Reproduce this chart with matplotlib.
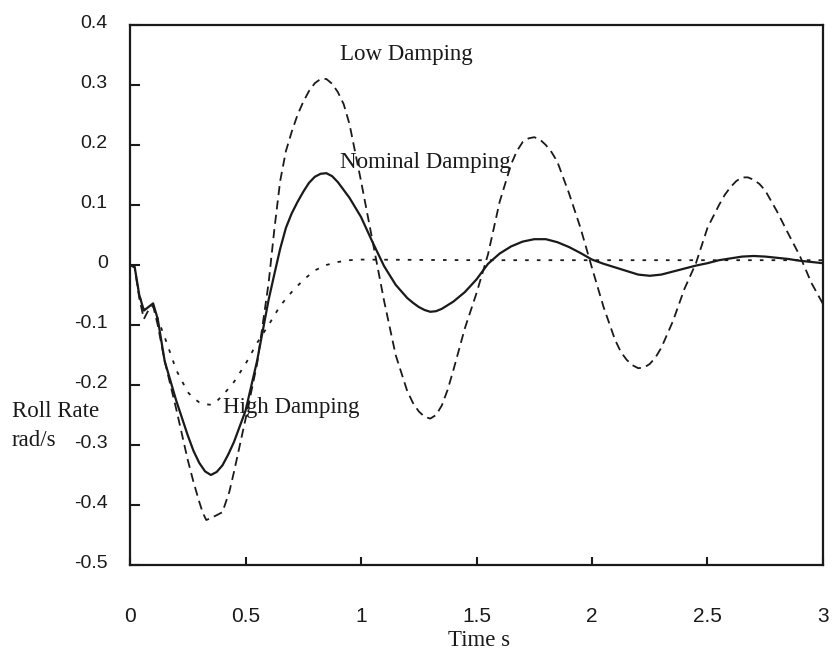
import matplotlib
matplotlib.use("Agg")
import matplotlib.pyplot as plt
import matplotlib.transforms as mtransforms

# values: time (s) and roll rate (rad/s) for each curve
t_nominal = [0.0, 0.02, 0.04, 0.06, 0.08, 0.10, 0.12, 0.15, 0.20, 0.25, 0.275,
             0.30, 0.325, 0.35, 0.375, 0.40, 0.425, 0.45, 0.50, 0.55, 0.60,
             0.625, 0.65, 0.675, 0.70, 0.725, 0.75, 0.775, 0.80, 0.825, 0.85,
             0.875, 0.90, 0.95, 1.00, 1.05, 1.10, 1.15, 1.20, 1.225, 1.25,
             1.275, 1.30, 1.325, 1.35, 1.40, 1.45, 1.50, 1.55, 1.60, 1.65,
             1.70, 1.75, 1.80, 1.85, 1.90, 1.95, 2.00, 2.05, 2.10, 2.15, 2.20,
             2.25, 2.30, 2.35, 2.40, 2.45, 2.50, 2.55, 2.60, 2.65, 2.70, 2.75,
             2.80, 2.85, 2.90, 2.95, 3.00]
nominal = [0.0, -0.003, -0.05, -0.076, -0.07, -0.064, -0.09, -0.16, -0.226,
           -0.284, -0.31, -0.33, -0.344, -0.35, -0.345, -0.334, -0.316, -0.295,
           -0.243, -0.16, -0.058, -0.015, 0.027, 0.062, 0.086, 0.105, 0.122,
           0.137, 0.147, 0.152, 0.153, 0.148, 0.138, 0.112, 0.08, 0.038,
           -0.002, -0.033, -0.055, -0.063, -0.07, -0.075, -0.078, -0.077,
           -0.073, -0.061, -0.045, -0.024, 0.002, 0.019, 0.031, 0.039, 0.043,
           0.043, 0.038, 0.03, 0.02, 0.009, 0.002, -0.004, -0.01, -0.016,
           -0.018, -0.016, -0.011, -0.006, -0.001, 0.003, 0.008, 0.011, 0.014,
           0.015, 0.014, 0.012, 0.01, 0.007, 0.005, 0.003]

t_low = [0.0, 0.02, 0.04, 0.06, 0.08, 0.10, 0.12, 0.15, 0.20, 0.25, 0.275,
         0.30, 0.315, 0.33, 0.35, 0.38, 0.40, 0.43, 0.45, 0.50, 0.55, 0.60,
         0.625, 0.65, 0.675, 0.70, 0.725, 0.75, 0.775, 0.80, 0.825, 0.85,
         0.875, 0.90, 0.925, 0.95, 1.00, 1.05, 1.10, 1.15, 1.20, 1.225, 1.25,
         1.275, 1.30, 1.325, 1.35, 1.375, 1.40, 1.45, 1.50, 1.55, 1.60, 1.65,
         1.675, 1.70, 1.725, 1.75, 1.775, 1.80, 1.825, 1.85, 1.90, 1.95, 2.00,
         2.05, 2.10, 2.125, 2.15, 2.175, 2.20, 2.225, 2.25, 2.275, 2.30, 2.35,
         2.40, 2.45, 2.50, 2.55, 2.575, 2.60, 2.625, 2.65, 2.675, 2.70, 2.725,
         2.75, 2.80, 2.85, 2.90, 2.95, 3.00]
low = [0.0, -0.004, -0.055, -0.09, -0.075, -0.068, -0.1, -0.16, -0.24, -0.325,
       -0.362, -0.395, -0.413, -0.425, -0.422, -0.416, -0.412, -0.378, -0.345,
       -0.257, -0.165, -0.03, 0.06, 0.14, 0.19, 0.222, 0.25, 0.272, 0.29,
       0.303, 0.31, 0.31, 0.302, 0.288, 0.268, 0.235, 0.14, 0.04, -0.06,
       -0.15, -0.21, -0.23, -0.244, -0.253, -0.256, -0.25, -0.234, -0.208,
       -0.175, -0.105, -0.047, 0.018, 0.105, 0.168, 0.19, 0.205, 0.211, 0.213,
       0.209, 0.2, 0.188, 0.172, 0.12, 0.062, -0.005, -0.07, -0.125, -0.145,
       -0.158, -0.167, -0.172, -0.171, -0.165, -0.154, -0.138, -0.094, -0.04,
       0.003, 0.062, 0.1, 0.117, 0.13, 0.14, 0.146, 0.146, 0.142, 0.135,
       0.124, 0.09, 0.052, 0.015, -0.03, -0.065]

t_high = [0.0, 0.02, 0.04, 0.06, 0.08, 0.10, 0.12, 0.15, 0.20, 0.25, 0.275,
          0.30, 0.325, 0.35, 0.375, 0.40, 0.45, 0.50, 0.55, 0.60, 0.65, 0.70,
          0.75, 0.80, 0.85, 0.90, 0.95, 1.00, 1.50, 2.00, 2.50, 3.00]
high = [0.0, -0.004, -0.05, -0.075, -0.07, -0.068, -0.09, -0.12, -0.175,
        -0.212, -0.222, -0.229, -0.232, -0.233, -0.227, -0.218, -0.195, -0.165,
        -0.13, -0.1, -0.068, -0.045, -0.025, -0.009, 0.0, 0.005, 0.008, 0.009,
        0.008, 0.008, 0.008, 0.008]

x_ticks = [0, 0.5, 1, 1.5, 2, 2.5, 3]
x_labels = ["0", "0.5", "1", "1.5", "2", "2.5", "3"]
y_ticks = [-0.5, -0.4, -0.3, -0.2, -0.1, 0, 0.1, 0.2, 0.3, 0.4]
y_labels = ["-0.5", "-0.4", "-0.3", "-0.2", "-0.1", "0", "0.1", "0.2", "0.3", "0.4"]

serif = "Liberation Serif"
sans = "Liberation Sans"
ink = "#1a1a1a"

fig = plt.figure(figsize=(8.34, 6.54), dpi=100)
ax = fig.add_axes([0.1559, 0.1361, 0.8309, 0.8257])

# curves
ax.plot(t_high, high, color=ink, lw=1.3, dashes=(2, 4.5))
ax.plot(t_low, low, color=ink, lw=1.3, dashes=(5, 3))
ax.plot(t_nominal, nominal, color=ink, lw=1.6, solid_joinstyle="round")

ax.set_xlim(0, 3)
ax.set_ylim(-0.5, 0.4)

ax.set_xticks(x_ticks)
ax.set_xticklabels(x_labels, fontfamily=sans, fontsize=15)
ax.set_yticks(y_ticks)
ax.set_yticklabels(y_labels, fontfamily=sans, fontsize=14)
ax.tick_params(axis="x", direction="in", length=6, width=1.5, pad=30, colors=ink)
ax.tick_params(axis="y", direction="in", length=7, width=1.5, pad=16, colors=ink)

# y labels sit a little above their ticks in the original
nudge = mtransforms.ScaledTranslation(0, 2.5 / 72, fig.dpi_scale_trans)
for lab in ax.get_yticklabels():
    lab.set_transform(lab.get_transform() + nudge)

for side in ["left", "right", "top", "bottom"]:
    ax.spines[side].set_linewidth(1.6)
    ax.spines[side].set_color(ink)

# curve labels
ax.text(0.909, 0.342, "Low Damping", family=serif, fontsize=16.5, color=ink, va="baseline")
ax.text(0.909, 0.162, "Nominal Damping", family=serif, fontsize=16.5, color=ink, va="baseline")
ax.text(0.404, -0.247, "High Damping", family=serif, fontsize=16.5, color=ink, va="baseline")

# axis titles
fig.text(0.0144, 0.3624, "Roll Rate", family=serif, fontsize=16.5, color=ink, va="baseline")
fig.text(0.0144, 0.318, "rad/s", family=serif, fontsize=16.5, color=ink, va="baseline")
fig.text(0.574, 0.004, "Time s", family=serif, fontsize=16.5, color=ink, va="bottom", ha="center")

fig.savefig("out.png", dpi=100)
